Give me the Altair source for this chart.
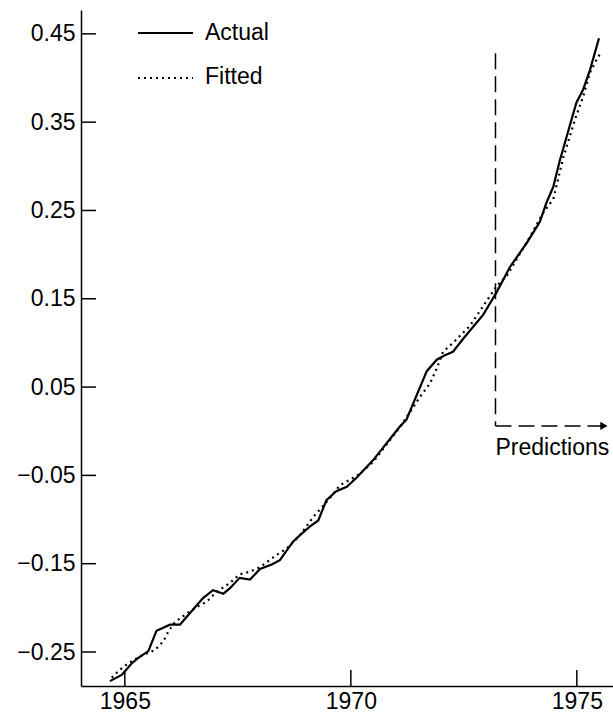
import altair as alt
import pandas as pd

# Observed series (decimal year, value)
actual_year = [1964.67, 1964.93, 1965.15, 1965.29, 1965.52, 1965.70, 1966.00, 1966.22,
               1966.37, 1966.73, 1966.95, 1967.18, 1967.32, 1967.54, 1967.77, 1967.99,
               1968.25, 1968.43, 1968.72, 1968.87, 1969.09, 1969.28, 1969.46, 1969.68,
               1969.91, 1970.12, 1970.49, 1971.08, 1971.23, 1971.68, 1971.90, 1972.08,
               1972.26, 1972.49, 1972.93, 1973.22, 1973.52, 1973.89, 1974.18, 1974.33,
               1974.48, 1974.62, 1974.99, 1975.14, 1975.29, 1975.49]
actual_val = [-0.283, -0.276, -0.263, -0.257, -0.249, -0.226, -0.219, -0.219,
              -0.210, -0.189, -0.180, -0.184, -0.178, -0.166, -0.168, -0.156,
              -0.151, -0.146, -0.125, -0.118, -0.108, -0.101, -0.078, -0.068,
              -0.063, -0.053, -0.033, 0.005, 0.013, 0.068, 0.081, 0.086,
              0.090, 0.105, 0.132, 0.157, 0.186, 0.213, 0.237, 0.259,
              0.277, 0.306, 0.372, 0.387, 0.409, 0.445]

# Model fit / predictions
fitted_year = [1964.71, 1964.89, 1965.07, 1965.33, 1965.66, 1965.85, 1965.96, 1966.11,
               1966.33, 1966.59, 1966.81, 1967.03, 1967.32, 1967.54, 1967.77, 1967.99,
               1968.36, 1968.58, 1968.87, 1969.17, 1969.50, 1969.76, 1969.98, 1970.20,
               1970.49, 1971.08, 1971.53, 1971.75, 1971.90, 1972.04, 1972.26, 1972.63,
               1973.22, 1973.45, 1973.96, 1974.25, 1974.48, 1974.70, 1974.96, 1975.14,
               1975.29, 1975.44, 1975.52]
fitted_val = [-0.279, -0.270, -0.263, -0.255, -0.248, -0.238, -0.227, -0.216,
              -0.208, -0.199, -0.193, -0.182, -0.172, -0.162, -0.159, -0.154,
              -0.140, -0.133, -0.118, -0.097, -0.078, -0.061, -0.055, -0.048,
              -0.035, 0.004, 0.039, 0.054, 0.071, 0.090, 0.100, 0.119,
              0.164, 0.176, 0.220, 0.247, 0.263, 0.310, 0.353, 0.379,
              0.406, 0.421, 0.428]

# Axis ticks
x_ticks = [1965, 1970, 1975]
y_ticks = [-0.25, -0.15, -0.05, 0.05, 0.15, 0.25, 0.35, 0.45]

# Start of the prediction period and its bracket
pred_start = 1973.2
pred_top = 0.428
pred_bottom = 0.006
pred_arrow_end = 1975.55
pred_arrow_tip = 1975.6
pred_label_y = -0.019

FONT = "Liberation Sans"
INK = "#000000"
FS = 23

xs = alt.Scale(domain=[1964.03, 1975.8], nice=False, zero=False)
ys = alt.Scale(domain=[-0.2885, 0.477], nice=False, zero=False)
x_axis = alt.Axis(values=x_ticks, format="d", ticks=False, grid=False, title=None,
                  labelFontSize=FS, labelFont=FONT, labelColor=INK, labelPadding=4,
                  labelFlush=False, domainColor=INK, domainWidth=1.5)
y_axis = alt.Axis(values=y_ticks, format=".2f", ticks=False, grid=False, title=None,
                  labelFontSize=FS, labelFont=FONT, labelColor=INK, labelPadding=6,
                  labelFlush=False, domainColor=INK, domainWidth=1.5)


def X(field, **kw):
    return alt.X(field, type="quantitative", scale=xs, axis=x_axis, **kw)


def Y(field, **kw):
    return alt.Y(field, type="quantitative", scale=ys, axis=y_axis, **kw)


actual_df = pd.DataFrame({"year": actual_year, "value": actual_val})
fitted_df = pd.DataFrame({"year": fitted_year, "value": fitted_val})
xt_df = pd.DataFrame({"year": x_ticks})
yt_df = pd.DataFrame({"value": y_ticks})
pred_df = pd.DataFrame({"x": [pred_start], "x2": [pred_arrow_end], "top": [pred_top],
                        "bottom": [pred_bottom], "tip": [pred_arrow_tip],
                        "label_y": [pred_label_y], "label": ["Predictions"]})

actual_line = alt.Chart(actual_df).mark_line(color=INK, strokeWidth=2.2).encode(
    x=X("year"), y=Y("value"))
fitted_line = alt.Chart(fitted_df).mark_line(color=INK, strokeWidth=2.2, strokeDash=[2, 4]).encode(
    x=X("year"), y=Y("value"))

# Inward-pointing tick marks
y_tick_marks = alt.Chart(yt_df).mark_rule(color=INK, strokeWidth=1.5).encode(
    y=Y("value"), x=alt.value(0), x2=alt.value(15))
x_tick_marks = alt.Chart(xt_df).mark_rule(color=INK, strokeWidth=1.5).encode(
    x=X("year"), y=alt.value(676), y2=alt.value(660))

# Prediction bracket: dashed vertical, dashed arrow and label
pred_base = alt.Chart(pred_df)
pred_vertical = pred_base.mark_rule(color=INK, strokeWidth=1.5, strokeDash=[16, 7]).encode(
    x=X("x"), y=Y("top"), y2="bottom")
pred_horizontal = pred_base.mark_rule(color=INK, strokeWidth=1.5, strokeDash=[16, 7]).encode(
    x=X("x"), x2="x2", y=Y("bottom"))
pred_head = pred_base.mark_point(shape="triangle-right", filled=True, size=70,
                                 color=INK, opacity=1).encode(x=X("tip"), y=Y("bottom"))
pred_text = pred_base.mark_text(align="left", baseline="middle", fontSize=FS, font=FONT,
                                color=INK).encode(x=X("x"), y=Y("label_y"), text="label:N")

# Key in the upper-left corner
legend_actual = alt.Chart(actual_df.head(1)).mark_rule(color=INK, strokeWidth=2).encode(
    x=alt.value(57), x2=alt.value(112), y=alt.value(23))
legend_fitted = alt.Chart(actual_df.head(1)).mark_rule(color=INK, strokeWidth=2,
                                                       strokeDash=[2, 4]).encode(
    x=alt.value(57), x2=alt.value(112), y=alt.value(68))
legend_text = alt.Chart(pd.DataFrame({"label": ["Actual", "Fitted"], "row": [23, 67]})).mark_text(
    align="left", baseline="middle", fontSize=FS, font=FONT, color=INK).encode(
    x=alt.value(124), y=alt.Y("row:Q", scale=None), text="label:N")

chart = alt.layer(
    actual_line, fitted_line, y_tick_marks, x_tick_marks,
    pred_vertical, pred_horizontal, pred_head, pred_text,
    legend_actual, legend_fitted, legend_text,
).properties(
    width=532, height=676,
    padding={"left": 81, "top": 10, "right": 0, "bottom": 27},
    autosize=alt.AutoSizeParams(type="none"),
    background="white",
).configure_view(stroke=None)

chart.save("out.html", embed_options={"renderer": "svg", "actions": False})
